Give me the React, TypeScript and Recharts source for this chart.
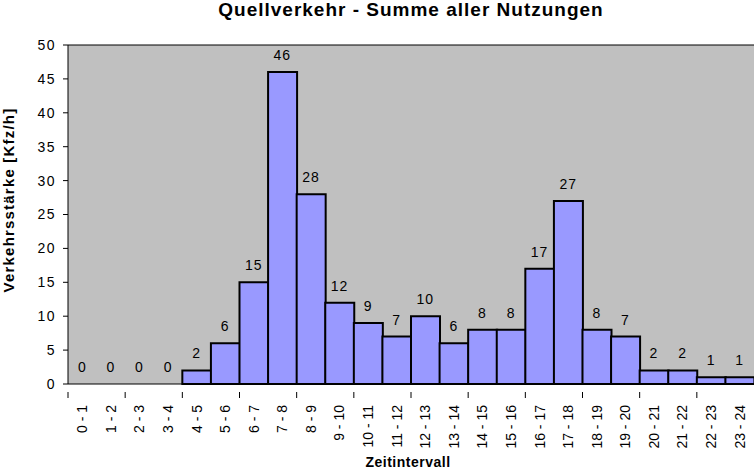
import React from "react";
import {
  ComposedChart,
  Bar,
  Line,
  XAxis,
  YAxis,
  CartesianGrid,
  ReferenceLine,
  LabelList,
} from "recharts";

const intervals = [
  "0 - 1", "1 - 2", "2 - 3", "3 - 4", "4 - 5", "5 - 6", "6 - 7", "7 - 8",
  "8 - 9", "9 - 10", "10 - 11", "11 - 12", "12 - 13", "13 - 14", "14 - 15",
  "15 - 16", "16 - 17", "17 - 18", "18 - 19", "19 - 20", "20 - 21", "21 - 22",
  "22 - 23", "23 - 24",
];
const volumes = [0, 0, 0, 0, 2, 6, 15, 46, 28, 12, 9, 7, 10, 6, 8, 8, 17, 27, 8, 7, 2, 2, 1, 1];
const yTicks = [0, 5, 10, 15, 20, 25, 30, 35, 40, 45, 50];

const data = intervals.map((name, i) => ({ name, value: volumes[i] }));

const FONT = "'Liberation Sans', Arial, sans-serif";

const XTick = (props: any) => {
  const { x, y, payload, index } = props;
  const half = payload?.offset ?? 686 / 24 / 2;
  return (
    <g>
      {index % 2 === 0 && (
        <line x1={x - half} x2={x - half} y1={y} y2={y + 6} stroke="#000" />
      )}
      <text
        x={x}
        y={y + 13}
        transform={`rotate(-90, ${x}, ${y + 13})`}
        textAnchor="end"
        dy="0.35em"
        fontSize={14}
        fontFamily={FONT}
        fill="#000"
      >
        {payload.value}
      </text>
    </g>
  );
};

// labels hang off an invisible line so the zero values get one too
const ValueLabel = (props: any) => {
  const { x, y, value } = props;
  return (
    <text
      x={Number(x)}
      y={Number(y) - 12}
      textAnchor="middle"
      fontSize={14}
      letterSpacing={1}
      fontFamily={FONT}
      fill="#000"
    >
      {String(value)}
    </text>
  );
};

export default function App() {
  return (
    <div style={{ position: "absolute", left: 0, top: 0, width: 754, height: 470, background: "#fff" }}>
      <div
        style={{
          position: "absolute",
          left: 0,
          width: 822,
          top: -2,
          textAlign: "center",
          fontFamily: FONT,
          fontWeight: "bold",
          fontSize: 19,
          letterSpacing: 1,
          lineHeight: "24px",
        }}
      >
        Quellverkehr - Summe aller Nutzungen
      </div>
      <ComposedChart
        width={754}
        height={470}
        data={data}
        margin={{ top: 45, right: 0, bottom: 0, left: 0 }}
        barCategoryGap={0}
      >
        <CartesianGrid fill="#C0C0C0" horizontal={false} vertical={false} />
        <XAxis
          dataKey="name"
          height={86}
          interval={0}
          tickLine={false}
          axisLine={{ stroke: "#000" }}
          tick={<XTick />}
          label={{
            content: () => (
              <text x={408} y={467} textAnchor="middle" fontSize={14} fontWeight="bold" letterSpacing={0.5} fontFamily={FONT} fill="#000">
                Zeitintervall
              </text>
            ),
          }}
        />
        <YAxis
          width={68}
          domain={[0, 50]}
          ticks={yTicks}
          interval={0}
          tickSize={5}
          tickMargin={7}
          tickLine={{ stroke: "#000" }}
          axisLine={{ stroke: "#000" }}
          tick={{ fill: "#000", fontSize: 14, fontFamily: FONT, letterSpacing: 1.5 }}
          label={{
            content: () => (
              <text
                x={9}
                y={200}
                transform="rotate(-90, 9, 200)"
                textAnchor="middle"
                dy="0.35em"
                fontSize={15}
                fontWeight="bold"
                letterSpacing={1.2}
                fontFamily={FONT}
                fill="#000"
              >
                Verkehrsstärke [Kfz/h]
              </text>
            ),
          }}
        />
        <ReferenceLine y={50} stroke="#000" />
        <Bar dataKey="value" fill="#9999FF" stroke="#000" strokeWidth={2} isAnimationActive={false} />
        <Line
          dataKey="value"
          stroke="none"
          dot={false}
          activeDot={false}
          legendType="none"
          isAnimationActive={false}
        >
          <LabelList dataKey="value" content={<ValueLabel />} />
        </Line>
      </ComposedChart>
    </div>
  );
}
